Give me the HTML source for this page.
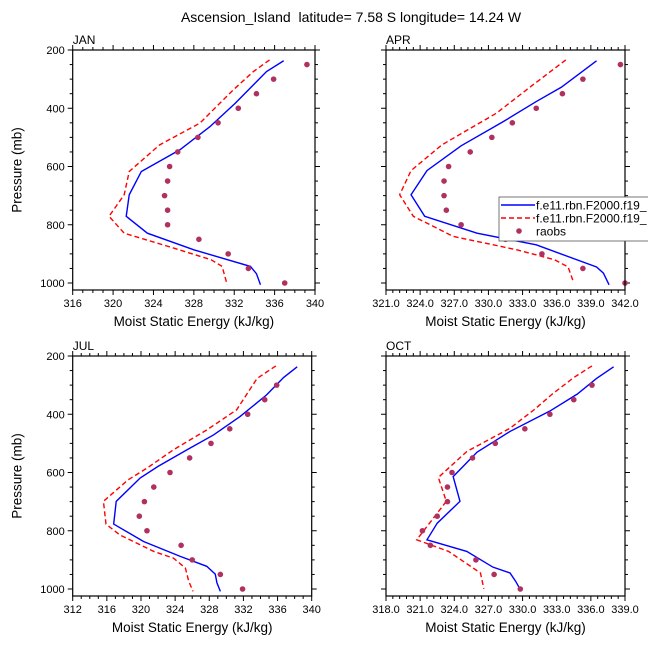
<!DOCTYPE html>
<html><head><meta charset="utf-8"><style>
body{margin:0;background:#fff;}
svg text{font-family:"Liberation Sans",sans-serif;fill:#000;}
</style></head><body>
<svg id="chart" width="648" height="649" xmlns="http://www.w3.org/2000/svg">
<rect width="648" height="649" fill="#fff"/>
<text x="351" y="22" font-size="14" text-anchor="middle">Ascension_Island&#160; latitude= 7.58 S longitude= 14.24 W</text>
<g id="panels"></g>
<g id="legend">
<rect x="499" y="197" width="160" height="44" fill="#fff" stroke="#555" stroke-width="0.8"/>
<line x1="501" y1="205" x2="535" y2="205" stroke="#0000ff" stroke-width="1.4"/>
<text x="536" y="209.5" font-size="12">f.e11.rbn.F2000.f19_</text>
<line x1="501" y1="218" x2="535" y2="218" stroke="#ff0000" stroke-width="1.4" stroke-dasharray="5,3"/>
<text x="536" y="222.5" font-size="12">f.e11.rbn.F2000.f19_</text>
<circle cx="519" cy="231" r="2.8" fill="#b03060"/>
<text x="536" y="235.5" font-size="12">raobs</text>
</g>
</svg>
<script>
// pressure levels for observations
const obsP = [250,300,350,400,450,500,550,600,650,700,750,800,850,900,950,1000];
// JAN
const janBlueX = [336.9,335.2,332.1,329.6,326.6,322.8,321.6,321.3,323.4,328.0,333.6,334.2,334.6];
const janBlueP = [237,274,383,463,543,617,697,771,829,886,943,968,1006];
const janRedX = [335.5,333.9,331.9,328.6,324.6,321.6,321.1,319.6,321.1,326.0,329.7,330.8,331.3];
const janRedP = [234,274,337,451,526,617,697,771,829,880,920,943,1006];
const janObs = [339.2,335.9,334.2,332.4,330.4,328.4,326.4,325.6,325.4,325.1,325.4,325.4,328.5,331.4,333.4,337.0];
// APR
const aprBlueX = [339.5,336.4,334.2,331.3,327.6,324.6,323.2,324.4,329.0,334.2,339.5,340.1,340.6];
const aprBlueP = [237,328,377,446,529,614,697,771,829,869,945,966,1006];
const aprRedX = [336.8,333.7,330.7,325.9,323.2,322.2,323.4,326.9,332.5,335.8,337.0,337.5];
const aprRedP = [234,326,417,526,614,697,771,840,886,920,945,1000];
const aprObs = [341.6,338.3,336.5,334.2,332.1,330.3,328.4,326.5,326.1,326.1,326.3,327.6,331.5,334.7,338.3,342.0];
// JUL
const julBlueX = [338.3,336.7,334.7,331.6,328.5,325.4,322.0,319.9,317.1,316.8,320.3,324.6,327.7,328.7,328.9,329.3];
const julBlueP = [237,274,334,408,471,522,579,619,699,777,837,888,922,949,979,1008];
const julRedX = [335.8,333.6,331.2,327.7,323.8,320.7,318.5,315.6,315.9,317.5,321.5,323.8,325.2,325.6,326.1];
const julRedP = [234,277,385,454,522,585,625,699,777,814,871,894,928,974,1008];
const julObs = [null,335.9,334.5,332.5,330.4,328.2,325.7,323.4,321.5,320.4,319.8,320.7,324.7,326.0,329.3,331.9];
// OCT
const octBlueX = [338.0,336.5,334.8,332.4,328.9,326.0,323.9,324.5,322.5,321.6,325.1,327.4,328.9,329.4,329.8];
const octBlueP = [237,277,331,389,459,530,614,699,774,831,871,925,945,974,1002];
const octRedX = [336.1,334.5,332.6,331.0,328.9,325.1,322.6,323.3,320.7,323.5,326.3,326.6];
const octRedP = [234,274,331,385,448,528,617,699,831,871,945,999];
const octObs = [null,336.1,334.5,332.4,330.2,327.6,325.6,323.8,323.4,323.4,322.5,321.2,321.9,325.9,327.5,329.8];
// axis tick labels
const janXTicks = ["316","320","324","328","332","336","340"];
const aprXTicks = ["321.0","324.0","327.0","330.0","333.0","336.0","339.0","342.0"];
const julXTicks = ["312","316","320","324","328","332","336","340"];
const octXTicks = ["318.0","321.0","324.0","327.0","330.0","333.0","336.0","339.0"];
const yTicks = [200,400,600,800,1000];

const NS="http://www.w3.org/2000/svg";
function mk(tag,attrs,parent){const e=document.createElementNS(NS,tag);for(const k in attrs)e.setAttribute(k,attrs[k]);parent.appendChild(e);return e;}
const root=document.getElementById('panels');

const panels=[
 {name:'jan',label:'JAN',L:72.7,T:50,W:242.3,xmin:316,xmax:340,step:4,minor:4,ticks:janXTicks,b:[janBlueX,janBlueP],r:[janRedX,janRedP],o:janObs,ylab:true},
 {name:'apr',label:'APR',L:386,T:50,W:239,xmin:321,xmax:342,step:3,minor:5,ticks:aprXTicks,b:[aprBlueX,aprBlueP],r:[aprRedX,aprRedP],o:aprObs,ylab:false},
 {name:'jul',label:'JUL',L:72.7,T:356,W:239,xmin:312,xmax:340,step:4,minor:4,ticks:julXTicks,b:[julBlueX,julBlueP],r:[julRedX,julRedP],o:julObs,ylab:true},
 {name:'oct',label:'OCT',L:386,T:356,W:239,xmin:318,xmax:339,step:3,minor:5,ticks:octXTicks,b:[octBlueX,octBlueP],r:[octRedX,octRedP],o:octObs,ylab:false}
];
const H=240, PMIN=200, PMAX=1024;

panels.forEach(pn=>{
 const g=mk('g',{},root);
 
 
 const xs=v=>pn.L+(v-pn.xmin)/(pn.xmax-pn.xmin)*pn.W;
 const ys=p=>pn.T+(p-PMIN)/(PMAX-PMIN)*H;
 const R=pn.L+pn.W, B=pn.T+H;
 for(let v=pn.xmin, i=0; v<=pn.xmax+1e-6; v+=pn.step/pn.minor, i++){
   const x=xs(v), maj=(i%pn.minor===0), len=maj?5:3;
   mk('line',{x1:x,y1:B,x2:x,y2:B+len,stroke:'#000','stroke-width':1},g);
   mk('line',{x1:x,y1:pn.T,x2:x,y2:pn.T-len,stroke:'#000','stroke-width':1},g);
 }
 pn.ticks.forEach(t=>{
   const tx=mk('text',{x:xs(parseFloat(t)),y:B+17,'font-size':11,'text-anchor':'middle'},g);
   tx.textContent=t;
   
   
 });
 for(let p=PMIN;p<=1000;p+=50){
   const y=ys(p), maj=(p%200===0), len=maj?5:3;
   mk('line',{x1:pn.L,y1:y,x2:pn.L-len,y2:y,stroke:'#000','stroke-width':1},g);
   mk('line',{x1:R,y1:y,x2:R+len,y2:y,stroke:'#000','stroke-width':1},g);
 }
 if(pn.ylab){
   yTicks.forEach(p=>{
     const tx=mk('text',{x:pn.L-8,y:ys(p)+4,'font-size':11,'text-anchor':'end'},g);
     tx.textContent=p;
     
     
   });
   const yl=mk('text',{x:0,y:0,'font-size':13.5,'text-anchor':'middle',transform:`translate(${pn.L-51},${pn.T+H/2}) rotate(-90)`},g);
   yl.textContent='Pressure (mb)';
   
   
 }
 const xl=mk('text',{x:pn.L+pn.W/2,y:B+36,'font-size':13.5,'text-anchor':'middle'},g);
 xl.textContent='Moist Static Energy (kJ/kg)';
 
 
 const lb=mk('text',{x:pn.L,y:pn.T-6,'font-size':12},g);
 lb.textContent=pn.label;
 
 
 const bl=mk('polyline',{points:pn.b[0].map((v,i)=>xs(v)+','+ys(pn.b[1][i])).join(' '),fill:'none',stroke:'#0000ff','stroke-width':1.4},g);
 
 
 const rl=mk('polyline',{points:pn.r[0].map((v,i)=>xs(v)+','+ys(pn.r[1][i])).join(' '),fill:'none',stroke:'#ff0000','stroke-width':1.4,'stroke-dasharray':'5,3'},g);
 
 
 pn.o.forEach((v,i)=>{
   if(v===null) return;
   const c=mk('circle',{cx:xs(v),cy:ys(obsP[i]),r:2.8,fill:'#b03060'},g);
   
   
 });
 mk('rect',{x:pn.L,y:pn.T,width:pn.W,height:H,fill:'none',stroke:'#000','stroke-width':1.2},g);
});
</script>
</body></html>
